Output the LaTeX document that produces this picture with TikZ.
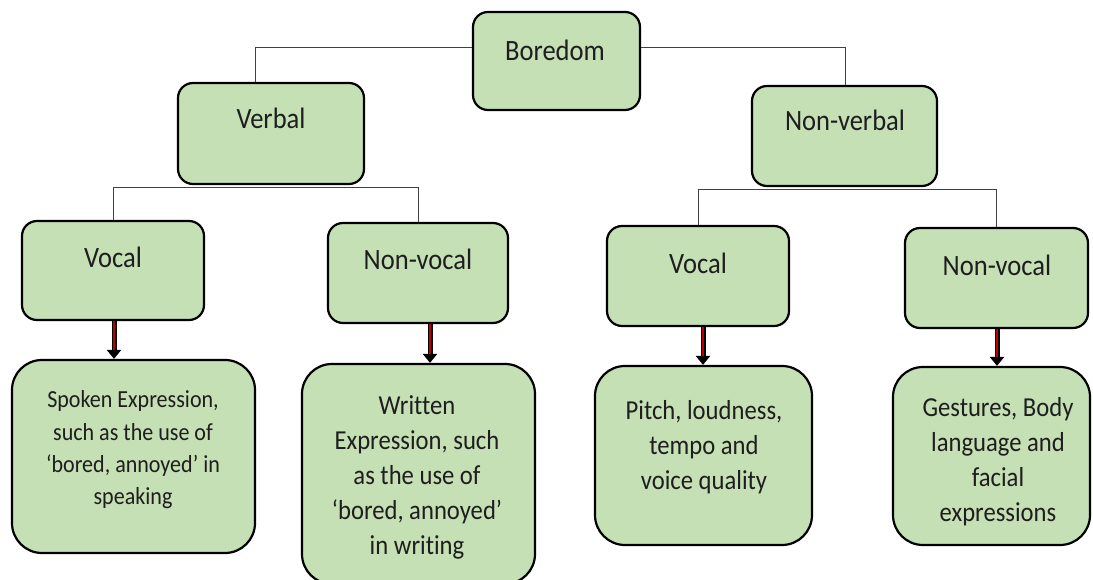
\documentclass[tikz,border=0pt]{standalone}
\usepackage{fontspec}
\setmainfont{Carlito}[FakeStretch=0.9,RawFeature=-liga]
\usetikzlibrary{arrows.meta,calc}
\definecolor{boxgreen}{RGB}{197,224,180}
\definecolor{arrred}{RGB}{192,0,0}
\definecolor{txt}{RGB}{30,30,30}
\begin{document}
\begin{tikzpicture}[x=1pt,y=-1pt,
  lbox/.style={draw=black, line width=2.2pt, fill=boxgreen, rounded corners=15pt, inner sep=0pt},
  leafbox/.style={draw=black, line width=2.2pt, fill=boxgreen, rounded corners=30pt, inner sep=0pt},
  lbl/.style={text=txt, inner sep=0pt, font=\fontsize{29.5}{35}\selectfont},
  leaftxt/.style={text=txt, inner sep=0pt, align=center, font=\fontsize{27.4}{35}\selectfont},
  conn/.style={draw=black!75, line width=0.9pt},
  arrout/.style={draw=black, line width=5pt, -{Triangle[length=9pt,width=14pt]}},
  arrin/.style={draw=arrred, line width=2.4pt, shorten >=9pt}]
\clip (0,0) rectangle (1093,580);
\useasboundingbox (0,0) rectangle (1093,580);
\fill[white] (0,0) rectangle (1093,580);

% level boxes
\node[lbox, minimum width=167pt, minimum height=98pt] (b0) at (556.5,61) {};
\node[lbox, minimum width=186pt, minimum height=101pt] (v) at (271,133.5) {};
\node[lbox, minimum width=185pt, minimum height=100pt] (nv) at (844.5,136) {};
\node[lbox, minimum width=182pt, minimum height=99pt] (vo1) at (113,270.5) {};
\node[lbox, minimum width=180pt, minimum height=100pt] (nvo1) at (418,273) {};
\node[lbox, minimum width=182pt, minimum height=100pt] (vo2) at (698,276) {};
\node[lbox, minimum width=183pt, minimum height=100pt] (nvo2) at (996.5,278) {};
% leaves
\node[leafbox, minimum width=243pt, minimum height=193pt] (l1) at (133.5,456.5) {};
\node[leafbox, minimum width=233pt, minimum height=220pt] (l2) at (418.5,474) {};
\node[leafbox, minimum width=217pt, minimum height=179pt] (l3) at (703.5,455.5) {};
\node[leafbox, minimum width=197pt, minimum height=178pt] (l4) at (991.5,456) {};

% labels
\node[lbl] (t0) at (555,50) {Boredom};
\node[lbl] (tv) at (271,118) {Verbal};
\node[lbl] (tnv) at (845,120) {Non-verbal};
\node[lbl] (tvo1) at (113,257) {Vocal};
\node[lbl] (tnvo1) at (418,259) {Non-vocal};
\node[lbl] (tvo2) at (698,263) {Vocal};
\node[lbl] (tnvo2) at (997,265) {Non-vocal};

\node[leaftxt, font=\fontsize{24.5}{32.3}\selectfont] (tl1) at (133,450) {Spoken Expression,\\such as the use of\\‘bored, annoyed’ in\\speaking};
\node[leaftxt] (tl2) at (417,477) {Written\\Expression, such\\as the use of\\‘bored, annoyed’\\in writing};
\node[leaftxt] (tl3) at (704,447) {Pitch, loudness,\\tempo and\\voice quality};
\node[leaftxt] (tl4) at (998,462) {Gestures, Body\\language and\\facial\\expressions};

% connectors
\draw[conn] ($(b0.west)+(0,-14)$) -| ($(v.north)+(-16,0)$);
\draw[conn] ($(b0.east)+(0,-14)$) -| ($(nv.north)+(1,0)$);
\draw[conn] (vo1.north) |- ($(v.south)+(0,2)$) -| (nvo1.north);
\draw[conn] (vo2.north) |- ($(nv.south)+(0,2)$) -| (nvo2.north);

% arrows
\coordinate (a1) at ($(vo1.south)+(1,0)$);
\coordinate (a2) at ($(nvo1.south)+(12,0)$);
\coordinate (a3) at ($(vo2.south)+(5,0)$);
\coordinate (a4) at ($(nvo2.south)+(0.5,0)$);
\foreach \a/\l in {a1/l1,a2/l2,a3/l3,a4/l4}{
  \draw[arrout] (\a) -- (\a |- \l.north);
  \draw[arrin] (\a) -- (\a |- \l.north);
}
\end{tikzpicture}
\end{document}
